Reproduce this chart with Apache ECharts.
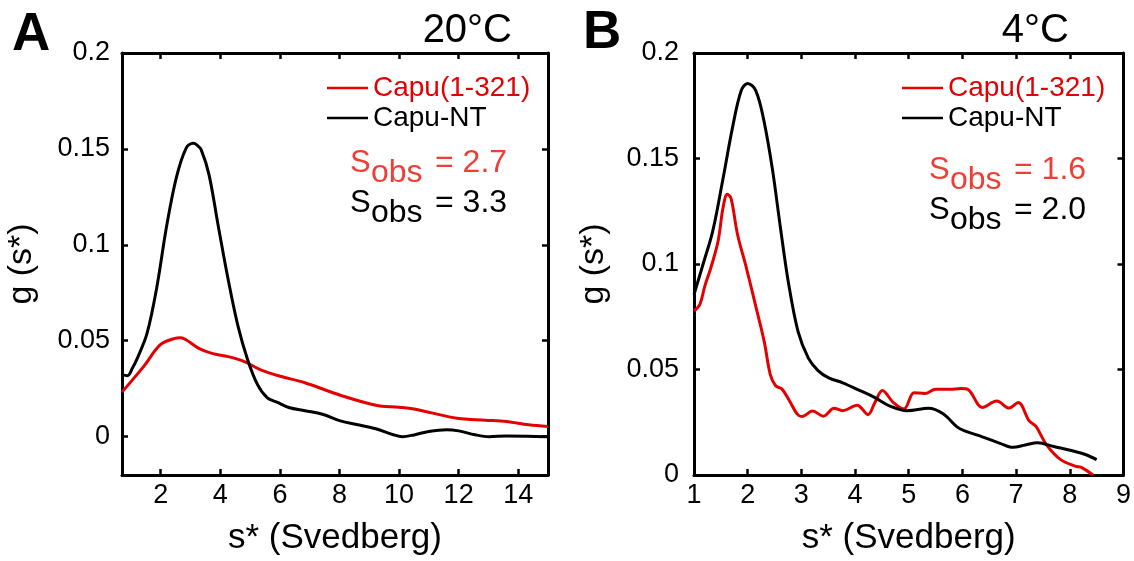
<!DOCTYPE html>
<html><head><meta charset="utf-8">
<script src="https://cdn.jsdelivr.net/npm/echarts@6/dist/echarts.min.js"></script>
<style>html,body{margin:0;padding:0;background:#fff}#c{width:1134px;height:561px}</style>
</head><body><div id="c"></div>
<script>
const FONT = '"Liberation Sans", Arial, Helvetica, sans-serif';
const RED = '#e40000';
const RED_TXT = '#ef3e36';

const seriesNames = ['Capu(1-321)', 'Capu-NT'];
const panelLetters = ['A', 'B'];
const panelTemps = ['20°C', '4°C'];
const sobsA = ['2.7', '3.3'];
const sobsB = ['1.6', '2.0'];
const xAxisName = 's* (Svedberg)';
const yAxisName = 'g (s*)';

const xTicksA = [2, 4, 6, 8, 10, 12, 14];
const yTicksA = [0, 0.05, 0.1, 0.15, 0.2];
const xTicksB = [1, 2, 3, 4, 5, 6, 7, 8, 9];
const yTicksB = [0, 0.05, 0.1, 0.15, 0.2];

// Panel A (20°C)
const xA_red = [0.7, 1.43, 1.98, 2.47, 2.67, 2.85, 3.28, 3.72, 4.27, 4.81, 5.36, 6.01, 6.84, 8.03, 9.22, 10.0, 10.5, 11.0, 11.95, 12.9, 13.6, 14.35, 15.0];
const yA_red = [0.0232, 0.0366, 0.0478, 0.0512, 0.0515, 0.0505, 0.046, 0.0434, 0.0417, 0.0391, 0.0348, 0.0315, 0.0281, 0.0216, 0.0164, 0.0153, 0.0144, 0.0127, 0.0096, 0.0086, 0.0079, 0.0062, 0.0053];
const xA_black = [0.7, 0.88, 1.06, 1.19, 1.54, 1.87, 2.19, 2.52, 2.85, 3.09, 3.22, 3.36, 3.62, 3.94, 4.27, 4.6, 4.92, 5.25, 5.58, 5.9, 6.3, 6.84, 7.43, 8.03, 8.62, 9.22, 9.81, 10.11, 10.5, 11.0, 11.6, 12.0, 12.55, 13.03, 13.6, 14.3, 15.0];
const yA_black = [0.0322, 0.0318, 0.036, 0.040, 0.0538, 0.078, 0.109, 0.1348, 0.1503, 0.1529, 0.152, 0.1495, 0.1366, 0.109, 0.0814, 0.0572, 0.040, 0.0271, 0.0202, 0.018, 0.0152, 0.0135, 0.0117, 0.0082, 0.0062, 0.0041, 0.001, 0.0, 0.0009, 0.0027, 0.0036, 0.003, 0.001, 0.0, 0.0003, 0.0002, 0.0];

// Panel B (4°C)
const xB_red = [1.0, 1.11, 1.2, 1.32, 1.45, 1.54, 1.62, 1.69, 1.81, 1.97, 2.15, 2.31, 2.42, 2.52, 2.64, 2.78, 2.92, 3.01, 3.21, 3.41, 3.61, 3.77, 4.04, 4.24, 4.37, 4.51, 4.71, 4.91, 5.1, 5.3, 5.5, 5.77, 5.97, 6.1, 6.37, 6.64, 6.87, 7.04, 7.24, 7.37, 7.57, 7.83, 8.1, 8.23, 8.43];
const yB_red = [0.0778, 0.0809, 0.0894, 0.0987, 0.111, 0.1265, 0.133, 0.1311, 0.1141, 0.0987, 0.080, 0.063, 0.0477, 0.0423, 0.0407, 0.0351, 0.029, 0.0277, 0.0303, 0.0279, 0.0316, 0.0305, 0.0331, 0.0286, 0.0344, 0.0401, 0.0344, 0.0313, 0.039, 0.0386, 0.0406, 0.0406, 0.041, 0.0406, 0.032, 0.0351, 0.0317, 0.0344, 0.0258, 0.023, 0.0142, 0.0073, 0.0042, 0.0034, 0.0];
const xB_black = [1.0, 1.17, 1.35, 1.54, 1.72, 1.88, 2.0, 2.15, 2.3, 2.46, 2.61, 2.76, 2.94, 3.13, 3.31, 3.51, 3.77, 4.04, 4.37, 4.64, 4.97, 5.37, 5.64, 5.9, 6.04, 6.37, 6.7, 6.94, 7.17, 7.4, 7.7, 8.03, 8.3, 8.5];
const yB_black = [0.0855, 0.1, 0.1157, 0.1404, 0.165, 0.1822, 0.1856, 0.1822, 0.1682, 0.145, 0.1172, 0.091, 0.0678, 0.0554, 0.0495, 0.046, 0.0437, 0.0406, 0.0367, 0.0328, 0.0305, 0.0316, 0.029, 0.0228, 0.0209, 0.0181, 0.015, 0.0131, 0.0142, 0.0153, 0.0135, 0.0116, 0.0096, 0.0073];

const zip = (xs, ys) => xs.map((x, i) => [x, ys[i]]);

const axisLine = { show: true, onZero: false, lineStyle: { color: '#000', width: 3 } };
function tick(vals) { return { show: true, inside: true, length: 6, customValues: vals, lineStyle: { color: '#000', width: 2.5 } }; }

function xAxes(grid, min, max, ticks) {
  return [
    { type: 'value', gridIndex: grid, min: min, max: max, position: 'bottom',
      axisLine: axisLine, axisTick: tick(ticks),
      axisLabel: { customValues: ticks, fontSize: 27, color: '#000', fontFamily: FONT, margin: 7 },
      splitLine: { show: false },
      name: xAxisName, nameLocation: 'middle', nameGap: 46, nameMoveOverlap: false,
      nameTextStyle: { fontSize: 35, color: '#000', fontFamily: FONT } },
    { type: 'value', gridIndex: grid, min: min, max: max, position: 'top',
      axisLine: axisLine, axisTick: tick(ticks), axisLabel: { show: false }, splitLine: { show: false } }
  ];
}
function yAxes(grid, min, max, ticks, margin) {
  return [
    { type: 'value', gridIndex: grid, min: min, max: max, position: 'left',
      axisLine: axisLine, axisTick: tick(ticks),
      axisLabel: { customValues: ticks, fontSize: 27, color: '#000', fontFamily: FONT, margin: margin },
      splitLine: { show: false },
      name: yAxisName, nameLocation: 'middle', nameGap: 83, nameRotate: 90, nameMoveOverlap: false,
      nameTextStyle: { fontSize: 34, color: '#000', fontFamily: FONT } },
    { type: 'value', gridIndex: grid, min: min, max: max, position: 'right',
      axisLine: axisLine, axisTick: tick(ticks), axisLabel: { show: false }, splitLine: { show: false } }
  ];
}

function line(name, data, color, xi, yi) {
  return { type: 'line', name: name, data: data, xAxisIndex: xi, yAxisIndex: yi,
    symbol: 'none', showSymbol: false, smooth: 0.35,
    lineStyle: { color: color, width: 3 }, itemStyle: { color: color } };
}

// text placed by its baseline (top = baseline - 0.81 * size)
function txt(x, base, text, size, color, weight, align) {
  return { type: 'text', x: x, y: base - 0.81 * size, silent: true,
    style: { text: text, fill: color, font: (weight || 'normal') + ' ' + size + 'px ' + FONT,
      textAlign: align || 'left', align: align || 'left', textVerticalAlign: 'top', verticalAlign: 'top' } };
}
function sobs(x, base, val, color) {
  return [
    txt(x, base, 'S', 31, color),
    txt(x + 21, base + 10, 'obs', 32, color),
    txt(x + 85, base, '= ' + val, 32, color)
  ];
}

function legend(left) {
  return { left: left, top: 73, orient: 'vertical', itemGap: 0, itemWidth: 41, itemHeight: 2.5,
    padding: 0, selectedMode: false, icon: 'rect',
    textStyle: { fontSize: 28, fontFamily: FONT, lineHeight: 30 },
    data: [ { name: seriesNames[0], icon: 'rect', textStyle: { color: RED } },
            { name: seriesNames[1], icon: 'rect', textStyle: { color: '#000' } } ] };
}

const option = {
  animation: false,
  backgroundColor: '#fff',
  grid: [
    { left: 122, top: 53, width: 426, height: 428 },
    { left: 694, top: 53, width: 432, height: 429 }
  ],
  xAxis: [].concat(xAxes(0, 0.7, 15, xTicksA), xAxes(1, 1, 9, xTicksB)),
  yAxis: [].concat(yAxes(0, -0.02, 0.2, yTicksA, 12), yAxes(1, 0, 0.2, yTicksB, 15)),
  legend: [legend(327), legend(902)],
  series: [
    line(seriesNames[0], zip(xA_red, yA_red), RED, 0, 0),
    line(seriesNames[1], zip(xA_black, yA_black), '#000', 0, 0),
    line(seriesNames[0], zip(xB_red, yB_red), RED, 2, 2),
    line(seriesNames[1], zip(xB_black, yB_black), '#000', 2, 2)
  ],
  graphic: [].concat(
    [ txt(12, 52, panelLetters[0], 53, '#000', 'bold'),
      txt(512, 43.5, panelTemps[0], 40, '#000', 'normal', 'right'),
      txt(583, 50, panelLetters[1], 53, '#000', 'bold'),
      txt(1069, 43.5, panelTemps[1], 40, '#000', 'normal', 'right') ],
    sobs(350, 173.5, sobsA[0], RED_TXT), sobs(350, 213.5, sobsA[1], '#000'),
    sobs(929, 180, sobsB[0], RED_TXT), sobs(929, 220, sobsB[1], '#000')
  )
};
const chart = echarts.init(document.getElementById('c'), null, { renderer: 'canvas' });
chart.setOption(option);
</script></body></html>
